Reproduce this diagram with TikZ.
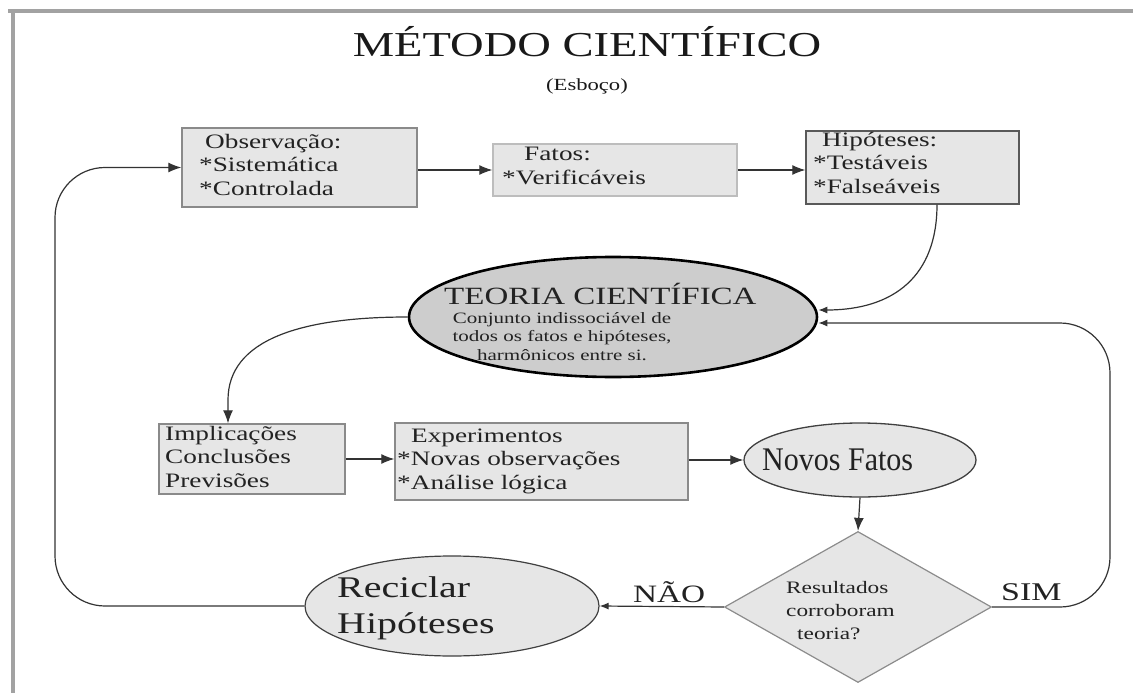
\documentclass[tikz,border=0pt]{standalone}
\usepackage{fontspec}
\setmainfont{Liberation Serif}[FakeStretch=1.33]
\newfontfamily\narrowserif{Liberation Serif}[FakeStretch=0.91]
\usetikzlibrary{shapes.geometric,arrows.meta}
\definecolor{boxfill}{HTML}{E6E6E6}
\definecolor{teofill}{HTML}{CDCDCD}
\definecolor{boxdraw}{HTML}{8A8A8A}
\definecolor{lightdraw}{HTML}{BDBDBD}
\definecolor{framegray}{HTML}{A2A2A2}
\definecolor{linegray}{HTML}{333333}
\definecolor{txtgray}{HTML}{222222}
\tikzset{
  box/.style={draw=boxdraw, fill=boxfill, line width=1.3pt, inner sep=0pt},
  txt/.style={inner sep=0pt, text=txtgray, align=left, anchor=base west},
  btxt/.style={txt, font=\fontsize{20.5}{23.5}\selectfont},
  conn/.style={draw=linegray, line width=1.2pt},
  bigtip/.style={-{Latex[length=13pt,width=10pt]}},
  smalltip/.style={-{Latex[length=9pt,width=7pt]}},
}
\begin{document}
\begin{tikzpicture}[x=1pt,y=-1pt]
\useasboundingbox (0,0) rectangle (1133,693);
\fill[white] (0,0) rectangle (1133,693);
% frame
\draw[framegray, line width=4pt] (8,11.5) -- (1133,11.5);
\draw[framegray, line width=4pt] (12.5,11.5) -- (12.5,693);

% titles
\node[inner sep=0pt, anchor=base, text=black!90, font=\fontsize{35}{40}\selectfont] (title) at (587,57) {MÉTODO CIENTÍFICO};
\node[inner sep=0pt, anchor=base, text=black!90, font=\fontsize{17}{20}\selectfont] (sub) at (587,90) {(Esboço)};

% top row boxes
\node[box, minimum width=235pt, minimum height=79pt] (obs) at (299.5,167.5) {};
\node[btxt] (obst) at (199,195) {\hspace{6pt}Observação:\\{*}Sistemática\\{*}Controlada};

\node[box, draw=lightdraw, minimum width=244pt, minimum height=52pt] (fat) at (615,170) {};
\node[btxt] (fatt) at (502,184) {\hspace{22pt}Fatos:\\{*}Verificáveis};

\node[box, draw=black!65, minimum width=213pt, minimum height=73pt] (hip) at (912.5,167.5) {};
\node[btxt] (hipt) at (813,193) {\hspace{9pt}Hipóteses:\\{*}Testáveis\\{*}Falseáveis};

% theory ellipse
\node[ellipse, draw=black, line width=2.6pt, fill=teofill, minimum width=408pt, minimum height=120pt, inner sep=0pt] (teo) at (613,317) {};
\node[txt, font=\fontsize{24.8}{28}\selectfont] (teot) at (444,304) {TEORIA CIENTÍFICA};
\node[txt, align=center, anchor=base, font=\fontsize{15.8}{18.5}\selectfont] (teod) at (562,360) {Conjunto indissociável de\\todos os fatos e hipóteses,\\harmônicos entre si.};

% middle row
\node[box, minimum width=186pt, minimum height=70pt] (imp) at (252,459) {};
\node[btxt] (impt) at (165,487) {Implicações\\Conclusões\\Previsões};

\node[box, minimum width=293pt, minimum height=77pt] (exp) at (541.5,461.5) {};
\node[btxt] (expt) at (397,489) {\hspace{14pt}Experimentos\\{*}Novas observações\\{*}Análise lógica};

\node[ellipse, draw=black!75, line width=1.3pt, fill=boxfill, minimum width=232pt, minimum height=74pt, inner sep=0pt] (nov) at (860,460) {};
\node[txt, font=\narrowserif\fontsize{33}{36}\selectfont] (novt) at (762,470) {Novos Fatos};

% decision
\node[diamond, draw=black!45, line width=1.2pt, fill=boxfill, minimum width=267pt, minimum height=151pt, inner sep=0pt] (dec) at (858,607) {};
\node[txt, font=\fontsize{17.5}{23}\selectfont] (dect) at (786,639) {Resultados\\corroboram\\\hspace{11pt}teoria?};

\node[ellipse, draw=black!75, line width=1.2pt, fill=boxfill, minimum width=294pt, minimum height=100pt, inner sep=0pt] (rec) at (452,606) {};
\node[txt, font=\fontsize{30}{36}\selectfont] (rect) at (337,633) {Reciclar\\Hipóteses};

\node[txt, font=\fontsize{25}{28}\selectfont] (nao) at (633,602) {NÃO};
\node[txt, font=\fontsize{25.5}{28}\selectfont] (sim) at (1001,600) {SIM};

% connectors
\draw[conn, bigtip] (obs.east |- fat.west) -- (fat.west);
\draw[conn, bigtip] (fat.east) -- (hip.west |- fat.east);

\coordinate (hipout) at ([xshift=24.5pt]hip.south);
\coordinate (teoin1) at ([yshift=7pt]teo.east);
\coordinate (teoin2) at ([yshift=-6pt]teo.east);
\draw[conn, smalltip] (hipout) .. controls (937,275) and (895,310) .. (teoin1);

\coordinate (impin) at ([xshift=-24pt]imp.north);
\draw[conn, bigtip] (teo.west) .. controls (300,317) and (228,340) .. (228,400) -- (impin);

\draw[conn, bigtip] (imp.east) -- (imp.east -| exp.west);
\draw[conn, bigtip] (exp.east |- nov.west) -- (nov.west);
\draw[conn, bigtip] (nov.south) -- (dec.north);

\draw[conn, smalltip] (dec.west) -- (rec.east);

\coordinate (simA) at (1110,607);
\coordinate (simB) at (1110,323);
\draw[conn, smalltip, rounded corners=50pt] (dec.east) -- (simA) -- (simB) -- (teoin2);

\coordinate (loopA) at (55,606);
\coordinate (loopB) at (55,167.5);
\draw[conn, bigtip, rounded corners=50pt] (rec.west) -- (loopA) -- (loopB) -- (obs.west);
\end{tikzpicture}
\end{document}
